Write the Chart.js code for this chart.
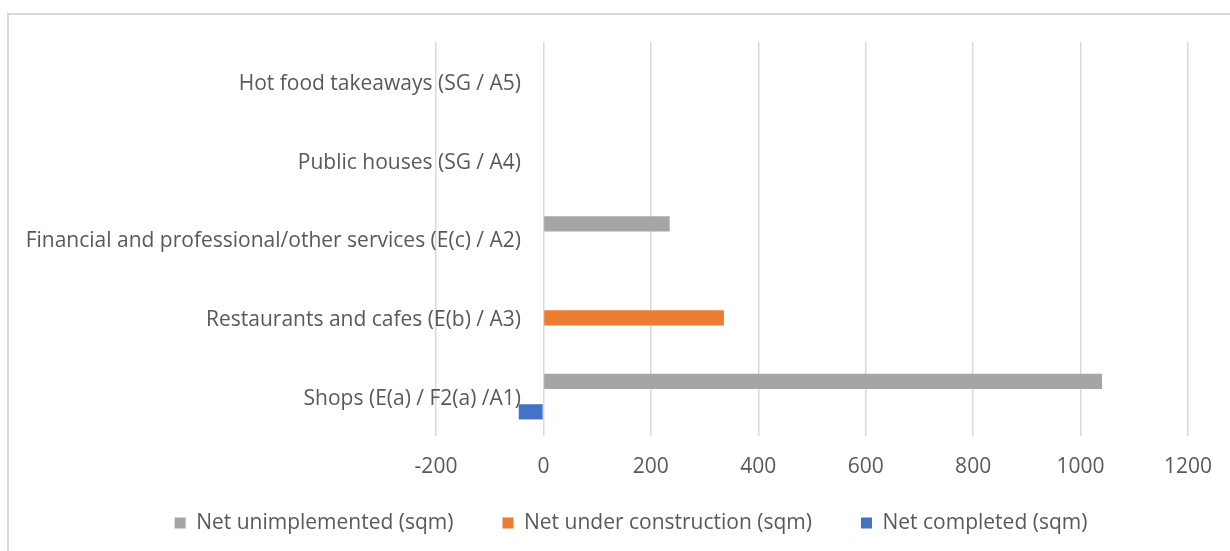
<!DOCTYPE html>
<html>
<head>
<meta charset="utf-8">
<script src="https://cdn.jsdelivr.net/npm/chart.js@4.4.1/dist/chart.umd.min.js"></script>
<style>
  body { margin: 0; background: #fff; }
  #frame { position: absolute; left: 7px; top: 13px; width: 1300px; height: 600px; border: 2px solid #d9d9d9; }
  #wrap { position: absolute; left: 0; top: 0; width: 1230px; height: 551px; }
</style>
</head>
<body>
<div id="frame"></div>
<div id="wrap"><canvas id="chartUsos"></canvas></div>
<script>
const categorias = [
    'Hot food takeaways (SG / A5)',
    'Public houses (SG / A4)',
    'Financial and professional/other services (E(c) / A2)',
    'Restaurants and cafes (E(b) / A3)',
    'Shops (E(a) / F2(a) /A1)'
]
const noImplementado = [0, 0, 235, 0, 1040]
const enConstruccion = [0, 0, 0, 336, 0]
const completado = [0, 0, 0, 0, -46]

const ctx = document.getElementById('chartUsos').getContext('2d');
const fuente = "'Open Sans', sans-serif"
const tamano = 21
const gris = '#595959'

// ancho de la etiqueta mas larga, para alinear las etiquetas a la derecha junto al cero
const medir = document.createElement('canvas').getContext('2d')
medir.font = tamano + "px 'Open Sans', sans-serif"
const masAncha = Math.max(...categorias.map(c => medir.measureText(c).width))

// sube la leyenda a su sitio sin cambiar el alto del area del grafico
const ajusteLeyenda = {
    id: 'ajusteLeyenda',
    afterLayout(chart) {
        const l = chart.legend
        const alto = l.bottom - l.top
        l.top = 463.5
        l.bottom = l.top + alto
        l.left += 33
        l.right += 33
    }
}

const data = {
    labels: categorias,
    datasets: [{
        label: 'Net unimplemented (sqm)',
        data: noImplementado,
        backgroundColor: '#a5a5a5'
    }, {
        label: 'Net under construction (sqm)',
        data: enConstruccion,
        backgroundColor: '#ed7d31'
    }, {
        label: 'Net completed (sqm)',
        data: completado,
        backgroundColor: '#4472c4'
    }]
}

const chartUsos = new Chart(ctx, {
    type: 'bar',
    data: data,
    plugins: [ajusteLeyenda],
    options: {
        indexAxis: 'y',
        responsive: true,
        maintainAspectRatio: false,
        animation: false,
        datasets: { bar: { barPercentage: 1, categoryPercentage: 0.58 } },
        layout: { padding: { left: 8, right: 42, top: 42, bottom: -20 } },
        plugins: {
            tooltip: { enabled: false },
            legend: {
                position: 'bottom',
                labels: {
                    color: gris,
                    font: { family: fuente, size: tamano },
                    boxWidth: 11,
                    boxHeight: 11,
                    padding: 49
                }
            }
        },
        scales: {
            x: {
                min: -200,
                max: 1200,
                ticks: {
                    stepSize: 200,
                    color: gris,
                    font: { family: fuente, size: tamano },
                    padding: 18,
                    callback: (v) => v
                },
                grid: { color: '#d9d9d9', lineWidth: 1.5, drawTicks: false },
                border: { display: false },
                afterFit: (scale) => { scale.height = 55 }
            },
            y: {
                ticks: {
                    color: gris,
                    font: { family: fuente, size: tamano },
                    mirror: true,
                    crossAlign: 'far',
                    labelOffset: 2.5,
                    padding: 85 - masAncha
                },
                grid: { display: false },
                border: { display: false },
                afterFit: (scale) => { scale.width = 428 }
            }
        }
    }
})
</script>
</body>
</html>
